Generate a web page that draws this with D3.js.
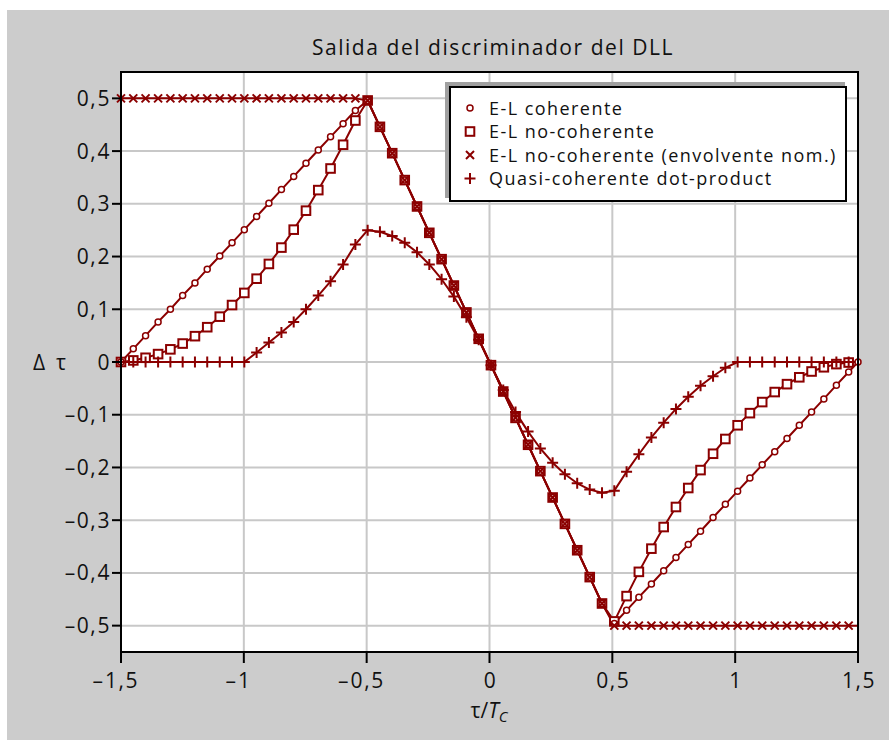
<!DOCTYPE html>
<html>
<head>
<meta charset="utf-8">
<script src="https://cdn.jsdelivr.net/npm/d3@7"></script>
<style>
  body { margin: 0; background: #fff; }
  text { font-family: "Open Sans", sans-serif; fill: #111; }
</style>
</head>
<body>
<div id="vis"></div>
<script>
// datos (tau en chips, salida normalizada)
const tau = [-1.500, -1.450, -1.400, -1.349, -1.299, -1.249, -1.199, -1.149, -1.098, -1.048,
  -0.998, -0.948, -0.898, -0.847, -0.797, -0.747, -0.697, -0.647, -0.596, -0.546,
  -0.496, -0.446, -0.396, -0.345, -0.295, -0.245, -0.195, -0.145, -0.094, -0.044,
  0.006, 0.056, 0.106, 0.157, 0.207, 0.257, 0.307, 0.357, 0.408, 0.458,
  0.508, 0.558, 0.608, 0.659, 0.709, 0.759, 0.809, 0.859, 0.910, 0.960,
  1.010, 1.060, 1.110, 1.161, 1.211, 1.261, 1.311, 1.361, 1.412, 1.462, 1.500];

const coherente = [0, 0.025, 0.050, 0.076, 0.100, 0.126, 0.150, 0.176, 0.201, 0.226,
  0.251, 0.276, 0.301, 0.327, 0.352, 0.377, 0.402, 0.427, 0.452, 0.477,
  0.496, 0.446, 0.396, 0.345, 0.295, 0.245, 0.195, 0.145, 0.094, 0.044,
  -0.006, -0.056, -0.106, -0.157, -0.207, -0.257, -0.307, -0.357, -0.408, -0.458,
  -0.496, -0.471, -0.446, -0.421, -0.396, -0.371, -0.346, -0.321, -0.295, -0.270,
  -0.245, -0.220, -0.195, -0.170, -0.145, -0.120, -0.095, -0.070, -0.044, -0.019, 0];

const noCoherente = [0, 0.003, 0.008, 0.015, 0.024, 0.035, 0.049, 0.066, 0.086, 0.108,
  0.131, 0.158, 0.186, 0.217, 0.251, 0.287, 0.326, 0.367, 0.412, 0.458,
  0.496, 0.446, 0.396, 0.345, 0.295, 0.245, 0.195, 0.145, 0.094, 0.044,
  -0.006, -0.056, -0.106, -0.157, -0.207, -0.257, -0.307, -0.357, -0.408, -0.458,
  -0.492, -0.444, -0.398, -0.354, -0.313, -0.275, -0.239, -0.205, -0.174, -0.146,
  -0.120, -0.097, -0.076, -0.057, -0.042, -0.029, -0.018, -0.010, -0.004, -0.001, 0];

const envolvente = [0.5, 0.5, 0.5, 0.5, 0.5, 0.5, 0.5, 0.5, 0.5, 0.5,
  0.5, 0.5, 0.5, 0.5, 0.5, 0.5, 0.5, 0.5, 0.5, 0.5,
  0.496, 0.446, 0.396, 0.345, 0.295, 0.245, 0.195, 0.145, 0.094, 0.044,
  -0.006, -0.056, -0.106, -0.157, -0.207, -0.257, -0.307, -0.357, -0.408, -0.458,
  -0.5, -0.5, -0.5, -0.5, -0.5, -0.5, -0.5, -0.5, -0.5, -0.5,
  -0.5, -0.5, -0.5, -0.5, -0.5, -0.5, -0.5, -0.5, -0.5, -0.5, -0.5];

const dotProduct = [0, 0, 0, 0, 0, 0, 0, 0, 0, 0,
  0, 0.018, 0.037, 0.056, 0.076, 0.100, 0.126, 0.153, 0.185, 0.223,
  0.250, 0.247, 0.239, 0.226, 0.208, 0.185, 0.157, 0.124, 0.085, 0.042,
  -0.006, -0.053, -0.095, -0.132, -0.164, -0.191, -0.213, -0.230, -0.242, -0.248,
  -0.244, -0.208, -0.175, -0.143, -0.115, -0.089, -0.066, -0.045, -0.027, -0.011,
  0, 0, 0, 0, 0, 0, 0, 0, 0, 0, 0];

const xTicks = [-1.5, -1, -0.5, 0, 0.5, 1, 1.5];
const xGrid = [-1, -0.5, 0, 0.5, 1];
const yTicks = [-0.5, -0.4, -0.3, -0.2, -0.1, 0, 0.1, 0.2, 0.3, 0.4, 0.5];
const nombres = ["E-L coherente", "E-L no-coherente", "E-L no-coherente (envolvente nom.)", "Quasi-coherente dot-product"];
const titulo = "Salida del discriminador del DLL";

const WIDTH = 889, HEIGHT = 740;
const margins = [121, 31, 72, 88]; // izquierda, derecha, arriba, abajo
const ROJO = "#8b0000";

const svg = d3.select("#vis").append("svg").attr("width", WIDTH).attr("height", HEIGHT);

const escala_x = d3.scaleLinear().domain([-1.5, 1.5]).range([margins[0], WIDTH - margins[1]]);
const escala_y = d3.scaleLinear().domain([-0.55, 0.55]).range([HEIGHT - margins[3], margins[2]]);

const etiqueta = d => (d < 0 ? "\u2013" : "") + String(Math.abs(d)).replace(".", ",");

// fondo gris
svg.append("rect").attr("x", 7).attr("y", 10).attr("width", WIDTH - 7).attr("height", HEIGHT - 10).attr("fill", "#cccccc");
svg.append("rect")
  .attr("x", escala_x(-1.5)).attr("y", escala_y(0.55))
  .attr("width", escala_x(1.5) - escala_x(-1.5)).attr("height", escala_y(-0.55) - escala_y(0.55))
  .attr("fill", "#fff");

// rejilla
const grid = svg.append("g");
grid.selectAll(".gx").data(xGrid).join("line")
  .attr("x1", d => escala_x(d)).attr("x2", d => escala_x(d))
  .attr("y1", escala_y(0.55)).attr("y2", escala_y(-0.55))
  .attr("stroke", "#c8c8c8").attr("stroke-width", 2);
grid.selectAll(".gy").data(yTicks).join("line")
  .attr("class", "gy")
  .attr("x1", escala_x(-1.5)).attr("x2", escala_x(1.5))
  .attr("y1", d => escala_y(d)).attr("y2", d => escala_y(d))
  .attr("stroke", "#c8c8c8").attr("stroke-width", 2);

// series
const series = [coherente, noCoherente, envolvente, dotProduct].map(vals => tau.map((t, i) => ({ t: t, v: vals[i], i: i })));
const linea = d3.line().x(d => escala_x(d.t)).y(d => escala_y(d.v));

const curvas = svg.append("g");
series.forEach(s => {
  curvas.append("path").datum(s).attr("d", linea)
    .attr("fill", "none").attr("stroke", ROJO).attr("stroke-width", 2).attr("stroke-linejoin", "round");
});

const simbolos = {
  circulo: g => g.append("circle").attr("r", 3).attr("fill", "#fff").attr("stroke", ROJO).attr("stroke-width", 1.5),
  cuadrado: g => g.append("rect").attr("x", -4.3).attr("y", -4.3).attr("width", 8.6).attr("height", 8.6)
    .attr("fill", "#fff").attr("stroke", ROJO).attr("stroke-width", 2),
  cruz: g => g.append("path").attr("d", "M-4,-4L4,4M-4,4L4,-4").attr("stroke", ROJO).attr("stroke-width", 2),
  mas: g => g.append("path").attr("d", "M-5.5,0H5.5M0,-5.5V5.5").attr("stroke", ROJO).attr("stroke-width", 2)
};

function marcar(datos, tipo) {
  const g = curvas.append("g");
  datos.forEach(d => {
    const m = g.append("g").attr("transform", `translate(${escala_x(d.t)},${escala_y(d.v)})`);
    simbolos[tipo](m);
  });
}
marcar(series[1].filter(d => d.i < 60), "cuadrado");
marcar(series[0], "circulo");
marcar(series[2].filter(d => d.i < 60), "cruz");
marcar(series[3].filter(d => d.i < 60), "mas");

// marco y ticks
svg.append("rect")
  .attr("x", escala_x(-1.5)).attr("y", escala_y(0.55))
  .attr("width", escala_x(1.5) - escala_x(-1.5)).attr("height", escala_y(-0.55) - escala_y(0.55))
  .attr("fill", "none").attr("stroke", "#000").attr("stroke-width", 2);

svg.selectAll(".ty").data(yTicks).join("line")
  .attr("x1", escala_x(-1.5) - 9).attr("x2", escala_x(-1.5))
  .attr("y1", d => escala_y(d)).attr("y2", d => escala_y(d))
  .attr("stroke", "#000").attr("stroke-width", 2);
svg.selectAll(".ly").data(yTicks).join("text")
  .attr("x", escala_x(-1.5) - 10).attr("y", d => escala_y(d) + 7.5)
  .attr("text-anchor", "end").style("font-size", "21px").style("letter-spacing", "1.6px")
  .text(d => etiqueta(d));

svg.selectAll(".tx").data(xTicks).join("line")
  .attr("x1", d => escala_x(d)).attr("x2", d => escala_x(d))
  .attr("y1", escala_y(-0.55)).attr("y2", escala_y(-0.55) + 11)
  .attr("stroke", "#000").attr("stroke-width", 2);
const lx = svg.append("g");
xTicks.forEach(d => {
  const t = lx.append("text").attr("x", escala_x(d) + 1).attr("y", 688)
    .attr("text-anchor", "middle").style("font-size", "21px").style("letter-spacing", "1.6px")
    .text(etiqueta(Math.abs(d)));
  if (d < 0) {
    const w = t.node().getComputedTextLength();
    lx.append("text").attr("x", escala_x(d) - w / 2 - 1).attr("y", 688)
      .attr("text-anchor", "end").style("font-size", "21px").text("\u2013");
  }
});

// titulo y ejes
svg.append("text").attr("x", 493).attr("y", 55).attr("text-anchor", "middle")
  .style("font-size", "21px").style("letter-spacing", "1.55px").text(titulo);

const ex = svg.append("text").attr("x", 489).attr("y", 718).attr("text-anchor", "middle").style("font-size", "21px");
ex.append("tspan").text("\u03c4/");
ex.append("tspan").style("font-style", "italic").text("T");
ex.append("tspan").style("font-style", "italic").style("font-size", "15px").attr("dy", 4).text("C");

svg.append("text").attr("x", 33).attr("y", 370).style("font-size", "21px").text("\u0394");
svg.append("text").attr("x", 56).attr("y", 370).style("font-size", "21px").text("\u03c4");

// leyenda
const leyenda = svg.append("g");
leyenda.append("rect").attr("x", 445).attr("y", 82).attr("width", 400).attr("height", 116).attr("fill", "#a0a0a0");
leyenda.append("rect").attr("x", 450).attr("y", 87).attr("width", 396).attr("height", 114)
  .attr("fill", "#fff").attr("stroke", "#000").attr("stroke-width", 2);
const tipos = ["circulo", "cuadrado", "cruz", "mas"];
nombres.forEach((n, i) => {
  const yy = 108 + i * 23.5;
  const m = leyenda.append("g").attr("transform", `translate(470,${yy})`);
  simbolos[tipos[i]](m);
  leyenda.append("text").attr("x", 489).attr("y", yy + 6.5)
    .style("font-size", "18px").style("letter-spacing", "1.45px").text(n);
});
</script>
</body>
</html>
